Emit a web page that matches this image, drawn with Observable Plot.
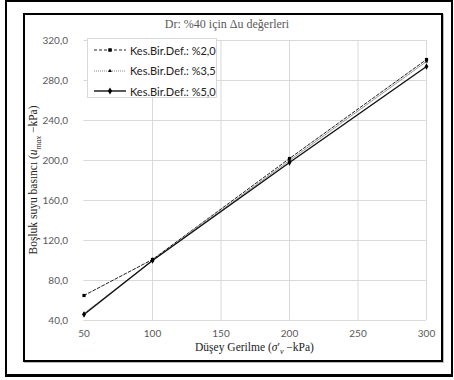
<!DOCTYPE html>
<html>
<head>
<meta charset="utf-8">
<script src="https://cdn.jsdelivr.net/npm/d3@7"></script>
<script src="https://cdn.jsdelivr.net/npm/@observablehq/plot@0.6"></script>
<style>
  html, body { margin: 0; padding: 0; background: #fff; }
  #wrap { position: relative; width: 454px; height: 380px; overflow: hidden; }
  #wrap svg.chart { position: absolute; left: 0; top: 0; }
  .outer { position: absolute; left: 5px; top: 0px; width: 448px; height: 377px; border-top: 2px solid #000; border-left: 2px solid #000; border-bottom: 3px solid #000; border-right: 2px solid #000; box-sizing: border-box; }
  .inner { position: absolute; left: 23px; top: 13px; width: 420px; height: 349px; border: 2px solid #000; box-sizing: border-box; box-shadow: 1px 1px 0 #bbb; }
  .title { position: absolute; left: 0; width: 454px; top: 17px; text-align: center; font-family: "Liberation Serif", "DejaVu Serif", serif; font-size: 12px; color: #595959; }
  .xlabel { position: absolute; left: 83px; width: 343px; top: 341px; text-align: center; font-family: "Liberation Serif", serif; font-size: 11.5px; color: #222; }
  .ylabel { position: absolute; left: 35px; top: 180px; transform: translate(-50%, -50%) rotate(-90deg); white-space: nowrap; font-family: "Liberation Serif", serif; font-size: 11.5px; color: #222; }
  .legend { position: absolute; left: 87px; top: 38px; width: 130px; height: 60px; box-sizing: border-box; border: 1px solid #d9d9d9; background: #fff; }
  .legend .row { position: absolute; left: 0; height: 16px; white-space: nowrap; display: flex; align-items: center; font-family: Lato, "Open Sans", sans-serif; font-size: 11px; color: #222; }
  sub { font-size: 0.7em; }
</style>
</head>
<body>
<div id="wrap"></div>
<script>
const stress = [50, 100, 200, 300];
const def20 = [65, 101, 202, 301];
const def35 = [47, 100, 200, 299];
const def50 = [46, 100, 198, 294];
const seriesNames = ["Kes.Bir.Def.: %2,0", "Kes.Bir.Def.: %3,5", "Kes.Bir.Def.: %5,0"];
const xTicks = [50, 100, 150, 200, 250, 300];
const yTicks = [40, 80, 120, 160, 200, 240, 280, 320];
const titleText = "Dr: %40 için Δu değerleri";

const styles = [
  { stroke: "#222", dash: "3,2", width: 1, symbol: "square", r: 1.8 },
  { stroke: "#888", dash: "1,1", width: 1, symbol: "triangle", r: 1.3 },
  { stroke: "#111", dash: null, width: 1.4, symbol: "diamond", r: 2.0 }
];
const allSeries = [def20, def35, def50].map((vals, i) =>
  stress.map((x, j) => ({ x, y: vals[j], s: seriesNames[i] })));

const marks = [
  Plot.ruleY(yTicks, { y: d => d, stroke: "#d9d9d9", strokeWidth: 1 }),
  Plot.ruleX(xTicks.filter(d => d > 50), { x: d => d, stroke: "#d9d9d9", strokeWidth: 1 }),
  Plot.axisX(xTicks, { tickSize: 0, tickPadding: 9, fontSize: 10, fill: "#595959", label: null, tickFormat: d => String(d) }),
  Plot.axisY(yTicks, { tickSize: 0, tickPadding: 16, fontSize: 10, fill: "#595959", label: null, tickFormat: d => d.toFixed(1).replace(".", ",") })
];
allSeries.forEach((data, i) => {
  const st = styles[i];
  marks.push(Plot.line(data, { x: "x", y: "y", stroke: st.stroke, strokeWidth: st.width, strokeDasharray: st.dash }));
  marks.push(Plot.dot(data, { x: "x", y: "y", symbol: () => st.symbol, r: st.r, fill: "#000", stroke: "none" }));
});

const chart = Plot.plot({
  width: 454, height: 380,
  marginLeft: 83.5, marginRight: 28, marginTop: 40, marginBottom: 60,
  x: { domain: [50, 300] },
  y: { domain: [40, 320] },
  style: { fontFamily: "Lato, 'Open Sans', sans-serif", background: "transparent" },
  marks
});
chart.classList.add("chart");

const wrap = document.getElementById("wrap");
wrap.appendChild(chart);

function add(cls, html) { const d = document.createElement("div"); d.className = cls; d.innerHTML = html; wrap.appendChild(d); return d; }
add("outer", "");
add("inner", "");
add("title", titleText);
add("xlabel", "Düşey Gerilme (<i>σ</i>′<sub><i>v</i></sub> −kPa)");
add("ylabel", "Boşluk suyu basıncı (<i>u</i><sub><i>max</i></sub> −kPa)");

const legend = add("legend", "");
const sym = { square: d3.symbolSquare, triangle: d3.symbolTriangle, diamond: d3.symbolDiamond };
seriesNames.forEach((name, i) => {
  const st = styles[i];
  const row = document.createElement("div");
  row.className = "row";
  row.style.top = (3 + i * 20.5) + "px";
  const s = d3.create("svg").attr("width", 36).attr("height", 16).style("margin-left", "4px").style("margin-right", "2px").style("flex", "none");
  s.append("line").attr("x1", 2).attr("x2", 34).attr("y1", 8).attr("y2", 8)
    .attr("stroke", st.stroke).attr("stroke-width", st.width).attr("stroke-dasharray", st.dash);
  s.append("path").attr("d", d3.symbol(sym[st.symbol], Math.PI * st.r * st.r * 1.2)()).attr("transform", "translate(18,8)").attr("fill", "#000");
  row.appendChild(s.node());
  const t = document.createElement("span");
  t.textContent = name;
  row.appendChild(t);
  legend.appendChild(row);
});
</script>
</body>
</html>
